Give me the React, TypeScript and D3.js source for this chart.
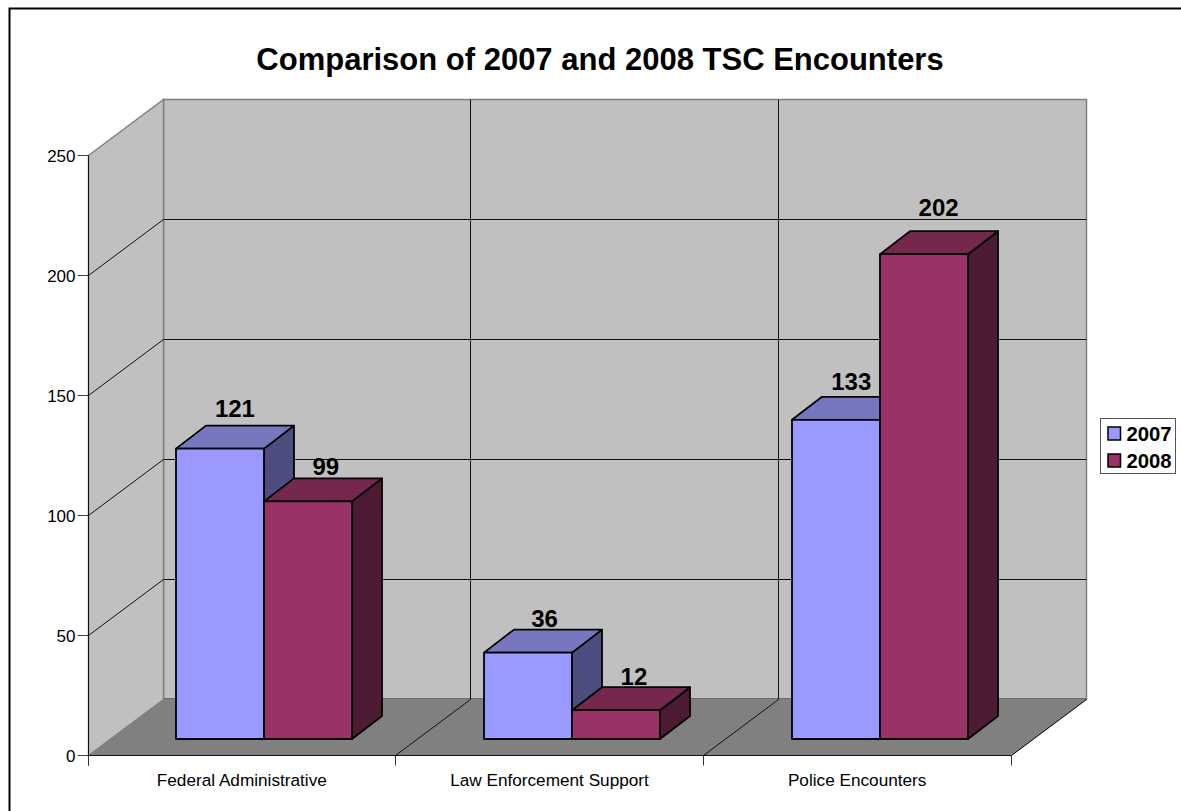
import React from "react";
import * as d3 from "d3";

const title = "Comparison of 2007 and 2008 TSC Encounters";
const categories = ["Federal Administrative", "Law Enforcement Support", "Police Encounters"];
const seriesNames = ["2007", "2008"];
const values2007 = [121, 36, 133];
const values2008 = [99, 12, 202];
const yTicks = [0, 50, 100, 150, 200, 250];
const labelNudgeX2007 = [0, 2, 1];
const labelNudgeX2008 = [3, 3.5, 0.5];
const labelLift2007 = [9, 3, 7];
const labelLift2008 = [3, 2, 15];

const fills = ["#9999ff", "#993366"];
const tops = ["#7777bf", "#75274e"];
const sides = ["#4d4d80", "#4d1a33"];

const FONT = "'Liberation Sans', Arial, sans-serif";
const W = 1181, H = 811;
const XA = 88, XB = 1011;
const X0 = XA + 0.5, X1 = XB + 0.5, Y0 = 755.5, YT = 155.5;
const DX = 75, DY = 56;
const barDX = 30, barDY = 23;
const barShiftX = 22, barShiftY = 16.5;

const y = d3.scaleLinear().domain([0, 250]).range([Y0, YT]);
const x = d3.scaleBand<string>().domain(categories).range([XA, XB]).paddingInner(0).paddingOuter(0);
const inner = d3.scaleBand<string>().domain(seriesNames).range([66, x.bandwidth() - 66]);

const poly = (pts: [number, number][]) => (d3.line()(pts) as string) + "Z";
const crisp = (v: number) => Math.floor(v) + 0.5;

export default function App() {
  const grid = yTicks.slice(1, -1);
  const bands = [XA, ...categories.map((c) => (x(c) as number) + x.bandwidth())].map(crisp);
  const rows = [values2007, values2008];
  const nudges = [labelNudgeX2007, labelNudgeX2008];
  const lifts = [labelLift2007, labelLift2008];
  return (
    <svg width={W} height={H} style={{ position: "absolute", left: 0, top: 0, background: "#fff", fontFamily: FONT }}>
      <rect x={9.5} y={8.5} width={W + 20} height={H + 20} fill="#fff" stroke="#000" strokeWidth={2} />
      <text x={600} y={70} textAnchor="middle" fontSize={31} fontWeight="bold" fill="#000">{title}</text>

      {/* walls */}
      <path d={poly([[X0 + DX, YT - DY], [X1 + DX, YT - DY], [X1 + DX, Y0 - DY], [X0 + DX, Y0 - DY]])} fill="#c0c0c0" stroke="#808080" strokeWidth={1.5} />
      <path d={poly([[X0, YT], [X0 + DX, YT - DY], [X0 + DX, Y0 - DY], [X0, Y0]])} fill="#c0c0c0" stroke="#808080" strokeWidth={1.5} />
      <path d={poly([[X0, Y0], [X0 + DX, Y0 - DY], [X1 + DX, Y0 - DY], [X1, Y0]])} fill="#808080" />
      <line x1={X0 + DX} x2={X1 + DX} y1={Y0 - DY - 1} y2={Y0 - DY - 1} stroke="#6a6a6a" strokeWidth={1} />

      {/* gridlines */}
      {grid.map((t) => (
        <path key={t} d={`M${X0},${y(t)}L${X0 + DX},${y(t) - DY}L${X1 + DX},${y(t) - DY}`} fill="none" stroke="#111" strokeWidth={1} />
      ))}
      {bands.slice(1, -1).map((b) => (
        <path key={b} d={`M${b},${Y0}L${b + DX},${Y0 - DY}L${b + DX},${YT - DY}`} fill="none" stroke="#111" strokeWidth={1} />
      ))}
      <line x1={X1} y1={Y0} x2={X1 + DX} y2={Y0 - DY} stroke="#000" strokeWidth={1} />

      {/* axes */}
      <line x1={X0} x2={X0} y1={YT} y2={Y0 + 10} stroke="#111" strokeWidth={1} />
      <line x1={X0} x2={X1} y1={Y0} y2={Y0} stroke="#111" strokeWidth={1} />
      {yTicks.map((t) => (
        <g key={t}>
          <line x1={X0 - 11} x2={X0} y1={y(t)} y2={y(t)} stroke="#444" strokeWidth={1} />
          <text x={X0 - 13} y={y(t) + 6} textAnchor="end" fontSize={17} fill="#000">{t}</text>
        </g>
      ))}
      {bands.map((b) => (
        <line key={b} x1={b} x2={b} y1={Y0} y2={Y0 + 10} stroke="#333" strokeWidth={1} />
      ))}
      {categories.map((c) => (
        <text key={c} x={(x(c) as number) + x.bandwidth() / 2} y={786} textAnchor="middle" fontSize={17.2} fill="#000">{c}</text>
      ))}

      {/* bars */}
      {categories.map((c, i) =>
        seriesNames.map((s, j) => {
          const v = rows[j][i];
          const l = Math.ceil((x(c) as number) + (inner(s) as number) + barShiftX);
          const r = l + Math.round(inner.bandwidth());
          const b = y(0) - barShiftY;
          const t = y(v) - barShiftY;
          return (
            <g key={c + s} stroke="#000" strokeWidth={1.8} strokeLinejoin="round">
              <path d={poly([[r, b], [r + barDX, b - barDY], [r + barDX, t - barDY], [r, t]])} fill={sides[j]} />
              <path d={poly([[l, t], [l + barDX, t - barDY], [r + barDX, t - barDY], [r, t]])} fill={tops[j]} />
              <rect x={l} y={t} width={r - l} height={b - t} fill={fills[j]} />
            </g>
          );
        })
      )}
      {categories.map((c, i) =>
        seriesNames.map((s, j) => {
          const v = rows[j][i];
          const l = (x(c) as number) + (inner(s) as number) + barShiftX;
          return (
            <text key={c + s} x={l + inner.bandwidth() / 2 + barDX / 2 + nudges[j][i]} y={y(v) - barShiftY - barDY - lifts[j][i]} textAnchor="middle" fontSize={24} fontWeight="bold" fill="#000">{v}</text>
          );
        })
      )}

      {/* legend */}
      <rect x={1100.5} y={418.5} width={75} height={55} fill="#fff" stroke="#555" strokeWidth={1} />
      {seriesNames.map((s, j) => (
        <g key={s}>
          <rect x={1108} y={427 + j * 27} width={12.5} height={13} fill={fills[j]} stroke="#000" strokeWidth={1.5} />
          <text x={1126.5} y={441 + j * 27} fontSize={20.3} fontWeight="bold" fill="#000">{s}</text>
        </g>
      ))}
    </svg>
  );
}
